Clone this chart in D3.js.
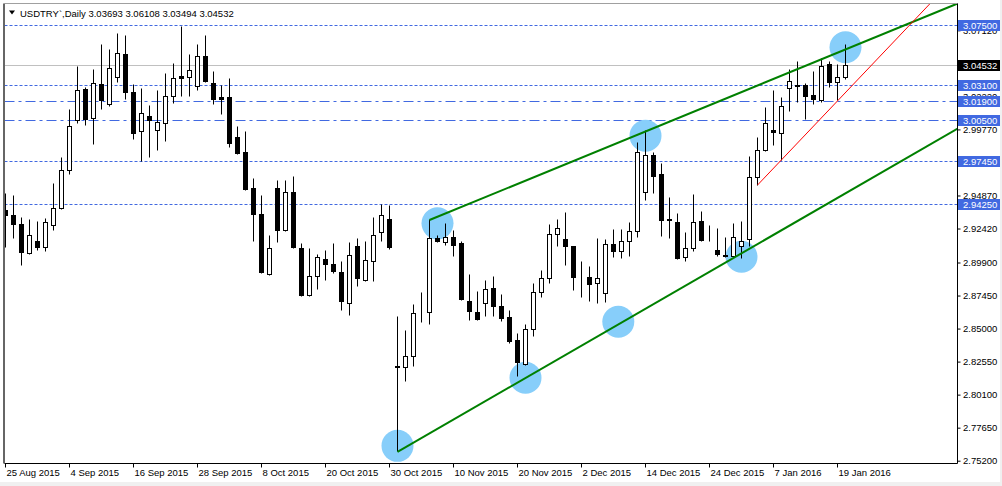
<!DOCTYPE html>
<html><head><meta charset="utf-8">
<script src="https://cdn.jsdelivr.net/npm/d3@7"></script>
<style>
html,body{margin:0;padding:0;background:#fff;overflow:hidden}
svg{display:block}
text{font-family:"Liberation Sans",Arial,sans-serif;font-size:9.5px}
</style></head><body>
<svg id="c" width="1002" height="486"></svg>
<script>
// ---- data (USDTRY daily candles) ----
const opens=[2.9383,2.9344,2.9279,2.9062,2.9153,2.9106,2.9269,2.9392,2.9674,3.0048,
3.0278,3.0060,3.0315,3.0164,3.0367,3.0540,3.0251,2.9964,3.0078,2.9974,
3.0026,3.0227,3.0370,3.0367,3.0301,3.0518,3.0325,3.0214,3.0221,2.9924,
2.9806,2.9539,2.9353,2.8906,2.9544,2.9229,2.9514,2.9099,2.8750,2.8891,
2.9017,2.8980,2.8921,2.8690,2.9113,2.8861,2.9002,2.9217,2.9309,2.8225,
2.8213,2.8294,2.8626,2.8621,2.9175,2.9143,2.9180,2.9138,2.8705,2.8626,
2.8690,2.8802,2.8670,2.8589,2.8416,2.8235,2.8498,2.8772,2.8876,2.9203,
2.9168,2.9113,2.8886,2.8886,2.8839,2.8762,2.9128,2.9076,2.9151,2.9225,
2.9514,2.9791,2.9643,2.9309,2.9292,2.9032,2.9099,2.9299,2.9159,2.9086,
2.9049,2.9036,2.9113,2.9165,2.9625,2.9823,2.9976,2.9952,3.0286,3.0304,
3.0308,3.0229,3.0197,3.0464,3.0327,3.03693];
const highs=[2.9509,2.9487,2.9331,2.9309,2.9301,2.9321,2.9576,2.9769,3.0125,3.0444,
3.0290,3.0427,3.0607,3.0577,3.0689,3.0681,3.0316,3.0281,3.0155,3.0266,
3.0392,3.0466,3.0743,3.0540,3.0607,3.0674,3.0407,3.0308,3.0360,2.9999,
2.9969,2.9620,2.9487,2.9197,2.9605,2.9605,2.9635,2.9131,2.9099,2.9056,
2.9086,2.9138,2.9004,2.9145,2.9173,2.9153,2.9331,2.9425,2.9413,2.8596,
2.8492,2.8685,2.8774,2.9309,2.9192,2.9286,2.9234,2.9153,2.8908,2.8782,
2.8863,2.8893,2.8760,2.8641,2.8468,2.8532,2.8839,2.8935,2.9272,2.9309,
2.9361,2.9116,2.8999,2.8965,2.9173,2.9168,2.9240,2.9237,2.9292,2.9887,
2.9976,2.9808,2.9729,2.9477,2.9358,2.9217,2.9499,2.9375,2.9269,2.9249,
2.9180,2.9286,2.9301,2.9781,2.9919,3.0147,3.0273,3.0219,3.0427,3.0481,
3.0318,3.0407,3.0508,3.0488,3.0461,3.06108];
const lows=[2.9108,2.9170,2.8975,2.9056,2.9081,2.9073,2.9234,2.9387,2.9650,3.0023,
3.0008,2.9867,3.0132,3.0149,3.0327,3.0206,2.9907,2.9741,2.9771,2.9828,
2.9890,3.0175,3.0224,3.0224,3.0268,3.0327,3.0164,3.0088,2.9845,2.9795,
2.9528,2.9148,2.8910,2.8895,2.9140,2.9222,2.9097,2.8741,2.8745,2.8791,
2.8858,2.8910,2.8636,2.8598,2.8814,2.8856,2.8851,2.9148,2.9093,2.7589,
2.8109,2.8225,2.8550,2.8537,2.9145,2.9118,2.9036,2.8715,2.8567,2.8564,
2.8591,2.8591,2.8554,2.8391,2.8151,2.8228,2.8443,2.8732,2.8836,2.9111,
2.8975,2.8784,2.8732,2.8702,2.8690,2.8698,2.9034,2.9024,2.9036,2.9177,
2.9457,2.9507,2.9190,2.9170,2.9017,2.8999,2.9073,2.9151,2.9148,2.9041,
2.9032,2.9032,2.9027,2.9111,2.9568,2.9815,2.9865,2.9749,3.0112,3.0179,
3.0051,3.0169,3.0182,3.0293,3.0192,3.03494];
const closes=[2.9341,2.9274,2.9066,2.9195,2.9103,2.9294,2.9395,2.9677,3.0004,3.0271,
3.0058,3.0323,3.0194,3.0434,3.0546,3.0253,2.9954,3.0100,3.0048,3.0034,
3.0227,3.0360,3.0357,3.0419,3.0523,3.0335,3.0206,3.0201,2.9875,2.9801,
2.9533,2.9348,2.8918,2.9099,2.9229,2.9514,2.9103,2.8747,2.8891,2.9032,
2.8980,2.8925,2.8702,2.9047,2.8873,2.9010,2.9195,2.9341,2.9108,2.8218,
2.8297,2.8619,2.8621,2.9175,2.9151,2.9180,2.9118,2.8722,2.8628,2.8569,
2.8794,2.8665,2.8579,2.8411,2.8253,2.8498,2.8772,2.8878,2.9203,2.9247,
2.9111,2.8883,2.8881,2.8829,2.8876,2.9128,2.9073,2.9151,2.9225,2.9811,
2.9789,2.9630,2.9303,2.9304,2.9021,2.9099,2.9292,2.9155,2.9155,2.9051,
2.9036,2.9180,2.9151,2.9625,2.9826,3.0026,2.9959,3.0152,3.0338,3.0301,
3.0224,3.0199,3.0449,3.0327,3.0367,3.04532];

const dateTickIndex=[0,8,16,24,32,40,48,56,64,72,80,88,96,104];
const dateTickLabels=["25 Aug 2015","4 Sep 2015","16 Sep 2015","28 Sep 2015","8 Oct 2015",
"20 Oct 2015","30 Oct 2015","10 Nov 2015","20 Nov 2015","2 Dec 2015","14 Dec 2015",
"24 Dec 2015","7 Jan 2016","19 Jan 2016"];
const priceTicks=[2.752,2.7765,2.801,2.8255,2.85,2.8745,2.899,2.9242,2.9487,2.9732,2.9977,3.0222,3.0467,3.0712];

const dashedLevels=[3.075,3.031,2.9745,2.9425];
const dashDotLevels=[3.019,3.005];
const bidPrice=3.04532;
const headerSymbol="USDTRY`,Daily";
const headerOHLC=[3.03693,3.06108,3.03494,3.04532];

const channelUpper=[[53,2.9309],[105,3.0574]];
const channelLower=[[49,2.7589],[105,2.9507]];
const redLine=[[94,2.9568],[104,3.0192]];
const circleIdx=[49,54,65,76.6,80,92,105];
const circlePrice=[2.7634,2.9284,2.8139,2.8554,2.9934,2.9036,3.0590];

// ---- drawing ----
const svg=d3.select("#c");
const plot={l:4.5,t:3.5,r:957.5,b:463.5};
const x=d3.scaleLinear().domain([0,105]).range([5.5,845.5]);
const y=d3.scaleLinear().domain([2.752,3.075]).range([461.2,25.7]);
const ry=v=>Math.round(y(v)-0.5)+0.5;
const BLUE="#4169e1";

svg.append("rect").attr("width",1002).attr("height",486).attr("fill","#fff");
svg.append("rect").attr("x",0).attr("y",482).attr("width",1002).attr("height",4).attr("fill","#f0f0f0");
svg.append("rect").attr("x",1000).attr("y",0).attr("width",2).attr("height",486).attr("fill","#f0f0f0");

svg.append("defs").append("clipPath").attr("id","pc").append("rect")
  .attr("x",plot.l).attr("y",plot.t).attr("width",plot.r-plot.l).attr("height",plot.b-plot.t);
const g=svg.append("g").attr("clip-path","url(#pc)");

// bid line
g.append("line").attr("x1",plot.l).attr("x2",plot.r).attr("y1",ry(bidPrice)).attr("y2",ry(bidPrice))
  .attr("stroke","#c0c0c0").attr("stroke-width",1);
// level lines
g.selectAll(".lvd").data(dashedLevels).join("line")
  .attr("x1",plot.l).attr("x2",plot.r).attr("y1",d=>ry(d)).attr("y2",d=>ry(d))
  .attr("stroke",BLUE).attr("stroke-width",1).attr("stroke-dasharray","3,2");
g.selectAll(".lvdd").data(dashDotLevels).join("line")
  .attr("x1",plot.l).attr("x2",plot.r).attr("y1",d=>ry(d)).attr("y2",d=>ry(d))
  .attr("stroke",BLUE).attr("stroke-width",1).attr("stroke-dasharray","10,4,3,4");

// circles (background)
g.selectAll(".circ").data(circleIdx).join("circle")
  .attr("cx",d=>x(d)).attr("cy",(d,i)=>y(circlePrice[i])).attr("r",16)
  .attr("fill","#87cefa");

// candles
const idx=d3.range(opens.length);
const cg=g.append("g");
cg.selectAll(".wick").data(idx).join("line")
  .attr("x1",i=>x(i)).attr("x2",i=>x(i))
  .attr("y1",i=>ry(highs[i])).attr("y2",i=>ry(lows[i]))
  .attr("stroke","#000").attr("stroke-width",1);
cg.selectAll(".body").data(idx).join("rect")
  .attr("x",i=>x(i)-2).attr("width",4)
  .attr("y",i=>ry(Math.max(opens[i],closes[i])))
  .attr("height",i=>Math.max(0,ry(Math.min(opens[i],closes[i]))-ry(Math.max(opens[i],closes[i]))))
  .attr("fill",i=>closes[i]>=opens[i]?"#fff":"#000")
  .attr("stroke","#000").attr("stroke-width",1);

// trend lines (rays)
function ray(seg){
  const [a,b]=seg; const s=(b[1]-a[1])/(b[0]-a[0]);
  const far=160; return [[a[0],a[1]],[far,a[1]+s*(far-a[0])]];
}
const lineGen=d3.line().x(d=>x(d[0])).y(d=>y(d[1]));
[channelUpper,channelLower].forEach(s=>{
  g.append("path").attr("d",lineGen(ray(s))).attr("fill","none")
   .attr("stroke","#008000").attr("stroke-width",2);
});
g.append("path").attr("d",lineGen(ray(redLine))).attr("fill","none")
  .attr("stroke","#ff0000").attr("stroke-width",1);

// frame
svg.append("line").attr("x1",plot.l).attr("x2",plot.r).attr("y1",plot.t).attr("y2",plot.t).attr("stroke","#a0a0a0");
svg.append("line").attr("x1",plot.l-0.5).attr("x2",plot.l-0.5).attr("y1",plot.t).attr("y2",plot.b).attr("stroke","#666").attr("stroke-width",2);
svg.append("line").attr("x1",plot.r).attr("x2",plot.r).attr("y1",plot.t).attr("y2",plot.b).attr("stroke","#000");
svg.append("line").attr("x1",plot.l).attr("x2",plot.r).attr("y1",plot.b).attr("y2",plot.b).attr("stroke","#000");

// bottom axis
const xa=svg.append("g").attr("transform",`translate(0,${plot.b})`)
  .call(d3.axisBottom(x).tickValues(dateTickIndex).tickSize(4).offset(0)
    .tickFormat((d,i)=>dateTickLabels[i]));
xa.select(".domain").remove();
xa.selectAll("text").attr("text-anchor","start").attr("x",1).attr("y",5.5)
  .attr("font-family",'"Liberation Sans",Arial,sans-serif').attr("font-size","9.5px").attr("fill","#000");
xa.selectAll("line").attr("stroke","#000");

// right axis
const ya=svg.append("g").attr("transform",`translate(${plot.r},0)`)
  .call(d3.axisRight(y).tickValues(priceTicks).tickSize(3).offset(0).tickFormat(d3.format(".5f")));
ya.select(".domain").remove();
ya.selectAll("text").attr("x",5.5)
  .attr("font-family",'"Liberation Sans",Arial,sans-serif').attr("font-size","9.5px").attr("fill","#000");
ya.selectAll("line").attr("stroke","#000");

// price label boxes
function box(v,fill){
  const cy=ry(v);
  svg.append("rect").attr("x",958).attr("y",cy-5.5).attr("width",42).attr("height",11).attr("fill",fill);
  svg.append("text").attr("x",963).attr("y",cy+3.5).attr("fill","#fff").text(d3.format(".5f")(v));
}
dashedLevels.concat(dashDotLevels).forEach(v=>box(v,BLUE));
box(bidPrice,"#000");

// header
svg.append("path").attr("d","M9,10.5 L15,10.5 L12,14.5 Z").attr("fill","#000");
svg.append("text").attr("x",20).attr("y",16.5).attr("fill","#000")
  .text(headerSymbol+"  "+headerOHLC.map(d3.format(".5f")).join(" "));
</script>
</body></html>
